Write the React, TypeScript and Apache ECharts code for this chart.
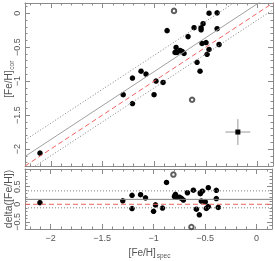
import React, { useEffect, useRef } from "react";
import * as echarts from "echarts";

// [Fe/H]spec, [Fe/H]cor for stars (filled)
const filledX = [-2.105, -1.30, -1.21, -1.21, -1.127, -1.079, -0.982, -0.914, -1.001, -0.875, -0.788, -0.798, -0.779, -0.750, -0.730, -0.711, -0.672, -0.614, -0.546, -0.546, -0.527, -0.469, -0.391, -0.391, -0.537, -0.498, -0.469, -0.372, -0.488, -0.585, -0.556];
const filledY = [-2.06, -1.20, -0.955, -1.33, -0.854, -0.897, -0.999, -1.02, -1.20, -0.257, -0.505, -0.577, -0.577, -0.548, -0.563, -0.592, -0.345, -0.214, -0.215, -0.245, -0.155, 0.0, 0.005, -0.228, -0.446, -0.432, -0.534, -0.461, -0.606, -0.723, -0.854];
// open symbols
const openX = [-0.808, -0.633];
const openY = [0.034, -1.275];
// typical error bar
const errPoint = [-0.19, -1.75];
const errX = 0.12;
const errY = 0.19;
// fitted offset and scatter
const MEAN_OFFSET = 0.14;
const SIGMA = 0.24;
const X_RANGE = [-2.25, 0.15];
const Y_RANGE = [-2.25, 0.15];
const D_RANGE = [-0.7, 1.0];

const FONT = "'Liberation Sans', Arial, sans-serif";
const AXIS_COLOR = "#8a8a8a";
const TEXT_COLOR = "#555";

function fmt(v: number, hide: number[] = []) {
  const r = Math.round(v * 2) / 2;
  if (Math.abs(v - r) > 1e-6) return "";
  if (hide.some((h) => Math.abs(h - r) < 1e-9)) return "";
  if (Math.abs(r) < 1e-9) return "0";
  return (r < 0 ? "\u2212" : "") + String(Math.abs(r));
}

function axisBase(showLabel: boolean, hide: number[] = [], rotate = 0) {
  return {
    axisLine: { show: true, onZero: false, lineStyle: { color: AXIS_COLOR, width: 1 } },
    axisTick: { show: true, inside: true, length: 5, lineStyle: { color: AXIS_COLOR } },
    minorTick: { show: true, splitNumber: 5, length: 2.5, lineStyle: { color: AXIS_COLOR } },
    splitLine: { show: false },
    axisLabel: {
      show: showLabel,
      rotate,
      margin: 4,
      fontSize: 9,
      fontFamily: FONT,
      color: TEXT_COLOR,
      formatter: (v: number) => fmt(v, hide),
    },
  };
}

export default function App() {
  const ref = useRef<HTMLDivElement>(null);
  useEffect(() => {
    if (!ref.current) return;
    const chart = echarts.init(ref.current, undefined, { renderer: "svg" });
    const filled = filledX.map((x, i) => [x, filledY[i]]);
    const open = openX.map((x, i) => [x, openY[i]]);
    const filledD = filledX.map((x, i) => [x, filledY[i] - x]);
    const openD = openX.map((x, i) => [x, openY[i] - x]);
    const lineTop = (off: number) => X_RANGE.map((x) => [x, x + off]);
    const lineBot = (off: number) => X_RANGE.map((x) => [x, off]);

    const xAx = (grid: number, pos: string, showLabel: boolean) => ({
      type: "value",
      gridIndex: grid,
      position: pos,
      min: X_RANGE[0],
      max: X_RANGE[1],
      splitNumber: 5,
      ...axisBase(showLabel),
    });
    const yAx = (grid: number, pos: string, showLabel: boolean, range: number[], split: number, hide: number[] = []) => ({
      type: "value",
      gridIndex: grid,
      position: pos,
      min: range[0],
      max: range[1],
      splitNumber: split,
      ...axisBase(showLabel, hide, 90),
    });

    const refLine = (data: number[][], xi: number, yi: number, color: string, type: any) => ({
      type: "line",
      xAxisIndex: xi,
      yAxisIndex: yi,
      data,
      symbol: "none",
      clip: true,
      silent: true,
      lineStyle: { color, width: 1, type },
    });

    const subText = (main: string, sub: string, x: number, y: number, rot: number, fs: number) => {
      const wMain = main.length * fs * 0.46;
      const wSub = sub.length * fs * 0.33;
      const start = -(wMain + wSub) / 2;
      return {
        type: "group",
        x,
        y,
        rotation: rot,
        children: [
          { type: "text", x: start, y: 0, style: { text: main, fontSize: fs, fontFamily: FONT, fill: TEXT_COLOR, align: "left", verticalAlign: "middle" } },
          { type: "text", x: start + wMain + 0.5, y: 3, style: { text: sub, fontSize: fs * 0.65, fontFamily: FONT, fill: TEXT_COLOR, align: "left", verticalAlign: "middle" } },
        ],
      };
    };

    chart.setOption({
      animation: false,
      grid: [
        { left: 25, top: 1, width: 248, height: 165 },
        { left: 25, top: 169, width: 248, height: 60 },
      ],
      xAxis: [xAx(0, "bottom", false), xAx(0, "top", false), xAx(1, "bottom", true), xAx(1, "top", false)],
      yAxis: [
        yAx(0, "left", true, Y_RANGE, 5),
        yAx(0, "right", false, Y_RANGE, 5),
        yAx(1, "left", true, D_RANGE, 3, [1]),
        yAx(1, "right", false, D_RANGE, 3),
      ],
      graphic: [
        subText("[Fe/H]", "spec", 149, 252, 0, 10),
        subText("[Fe/H]", "cor", 8, 79, Math.PI / 2, 10),
        { type: "text", x: 8, y: 199, rotation: Math.PI / 2, style: { text: "delta([Fe/H])", fontSize: 10.5, fontFamily: FONT, fill: TEXT_COLOR, align: "center", verticalAlign: "middle" } },
      ],
      series: [
        refLine(lineTop(MEAN_OFFSET + SIGMA), 0, 0, "#808080", [1, 2]),
        refLine(lineTop(MEAN_OFFSET - SIGMA), 0, 0, "#808080", [1, 2]),
        refLine(lineTop(MEAN_OFFSET), 0, 0, "#a0a0a0", "solid"),
        refLine(lineTop(0), 0, 0, "#f06262", [5, 3]),
        refLine(lineBot(MEAN_OFFSET + SIGMA), 2, 2, "#808080", [1, 2]),
        refLine(lineBot(MEAN_OFFSET - SIGMA), 2, 2, "#808080", [1, 2]),
        refLine(lineBot(MEAN_OFFSET), 2, 2, "#808080", "solid"),
        refLine(lineBot(0), 2, 2, "#f06262", [5, 3]),
        refLine([[errPoint[0] - errX, errPoint[1]], [errPoint[0] + errX, errPoint[1]]], 0, 0, "#999", "solid"),
        refLine([[errPoint[0], errPoint[1] - errY], [errPoint[0], errPoint[1] + errY]], 0, 0, "#999", "solid"),
        { type: "scatter", xAxisIndex: 0, yAxisIndex: 0, data: [errPoint], symbol: "rect", symbolSize: 5, z: 5, itemStyle: { color: "#000", opacity: 1 } },
        { type: "scatter", xAxisIndex: 0, yAxisIndex: 0, data: filled, symbol: "circle", symbolSize: 5.5, itemStyle: { color: "#000", opacity: 1 } },
        { type: "scatter", xAxisIndex: 0, yAxisIndex: 0, data: open, symbol: "emptyCircle", symbolSize: 4.5, itemStyle: { color: "#333", borderWidth: 0.8 } },
        { type: "scatter", xAxisIndex: 2, yAxisIndex: 2, data: filledD, symbol: "circle", symbolSize: 5.5, itemStyle: { color: "#000", opacity: 1 } },
        { type: "scatter", xAxisIndex: 2, yAxisIndex: 2, data: openD, symbol: "emptyCircle", symbolSize: 4.5, itemStyle: { color: "#333", borderWidth: 0.8 } },
      ],
    });
    return () => chart.dispose();
  }, []);
  return <div ref={ref} style={{ position: "fixed", left: 0, top: 0, width: 275, height: 261 }} />;
}
